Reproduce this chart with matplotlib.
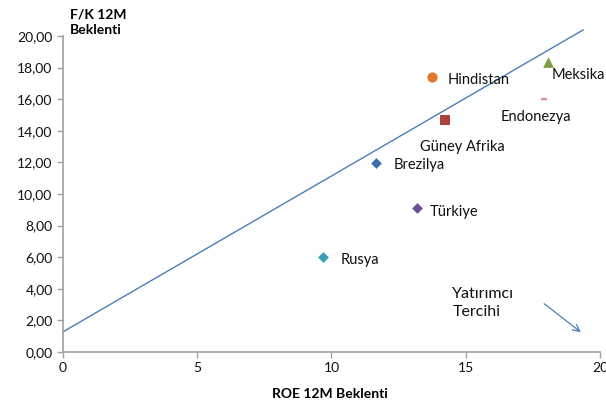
import matplotlib
matplotlib.use("Agg")
import matplotlib.pyplot as plt

countries = ["Hindistan", "Meksika", "Endonezya", "Güney Afrika", "Brezilya", "Türkiye", "Rusya"]
roe = [13.74, 18.06, 17.9, 14.23, 11.66, 13.18, 9.68]
pe = [17.4, 18.35, 16.0, 14.68, 11.96, 9.11, 6.01]
markers = ["o", "^", "_", "s", "D", "D", "D"]
colors = ["#E07B2E", "#7E9E45", "#E8828E", "#B0403D", "#3E6DB0", "#6E4E90", "#3A9FB5"]
sizes = [55, 60, 25, 55, 30, 30, 30]
label_pos = [(14.34, 17.2), (18.2, 17.5), (16.3, 14.9), (13.3, 13.0), (12.3, 11.8), (13.67, 8.86), (10.35, 5.8)]

line_x = [0, 19.37]
line_y = [1.27, 20.38]

xticks = [0, 5, 10, 15, 20]
yticks = [0, 2, 4, 6, 8, 10, 12, 14, 16, 18, 20]

plt.rcParams['font.family'] = ['Lato', 'DejaVu Sans']

fig = plt.figure(figsize=(6.06, 4.04), dpi=100)
ax = fig.add_axes([0.104, 0.129, 0.886, 0.782])

ax.plot(line_x, line_y, color="#4A7EBB", lw=1.0, clip_on=False)

for x, y, m, c, s in zip(roe, pe, markers, colors, sizes):
    if m == "_":
        ax.scatter(x, y, marker=m, s=s, color=c, linewidths=1.5, zorder=3)
    else:
        ax.scatter(x, y, marker=m, s=s, color=c, zorder=3, linewidths=0)

for name, (lx, ly) in zip(countries, label_pos):
    ax.text(lx, ly, name, fontsize=10.5, va="center", ha="left", color="#111111")

ax.text(14.5, 3.1, "Yatırımcı\nTercihi", fontsize=11.5, va="center", ha="left", color="#111111", linespacing=1.3)
ax.annotate("", xy=(19.37, 1.14), xytext=(17.84, 3.16),
            arrowprops=dict(arrowstyle="->", color="#4A7EBB", lw=0.9, mutation_scale=12))

ax.set_xlim(0, 20)
ax.set_ylim(0, 20)
ax.set_xticks(xticks)
ax.set_yticks(yticks)
ax.set_xticklabels([str(t) for t in xticks])
ax.set_yticklabels([f"{t:.2f}".replace(".", ",") for t in yticks])
ax.tick_params(labelsize=10, color="#A0A0A0", length=4, width=1, colors="#111111")
ax.tick_params(axis="both", color="#A0A0A0")
for sp in ["top", "right"]:
    ax.spines[sp].set_visible(False)
for sp in ["left", "bottom"]:
    ax.spines[sp].set_color("#A0A0A0")
    ax.spines[sp].set_linewidth(1.2)

fig.text(0.545, 0.025, "ROE 12M Beklenti", fontsize=10, fontweight="bold", ha="center", va="center")
fig.text(0.116, 0.945, "F/K 12M\nBeklenti", fontsize=10, fontweight="bold", ha="left", va="center", linespacing=1.3)

fig.savefig("out.png", dpi=100)
